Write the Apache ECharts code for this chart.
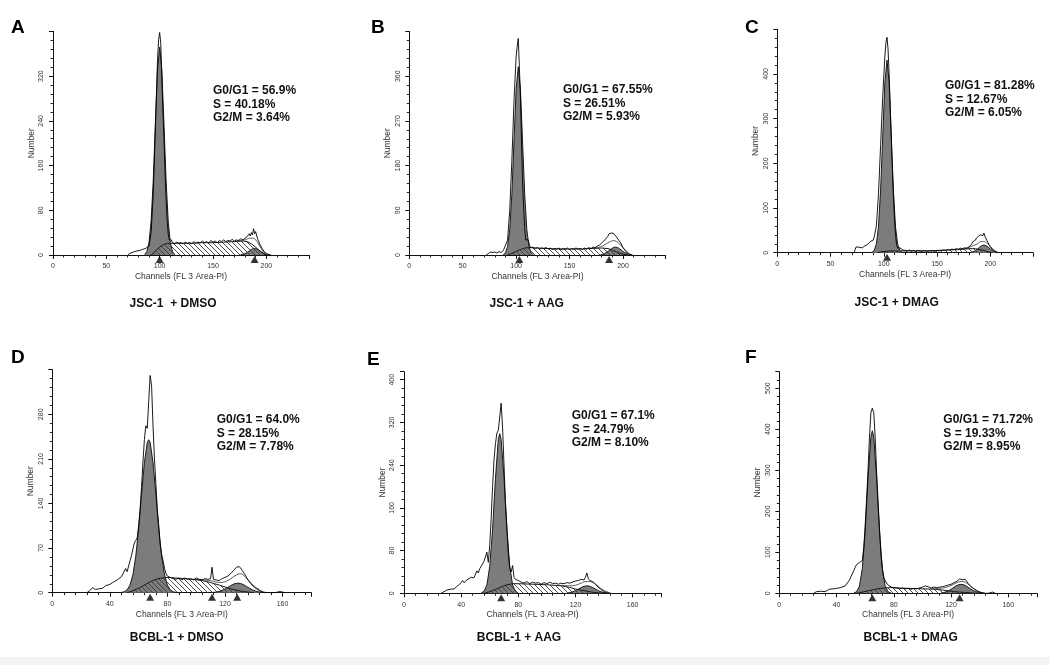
<!DOCTYPE html>
<html><head><meta charset="utf-8">
<script src="https://cdn.jsdelivr.net/npm/echarts@6/dist/echarts.min.js"></script>
<style>html,body{margin:0;padding:0;background:#fff}#c{width:1050px;height:665px}</style>
</head><body><div id="c"></div>
<script>
// ---------- DATA ----------
const panelLetters = ['A','B','C','D','E','F'];
const panelTitles = ['JSC-1  + DMSO','JSC-1 + AAG','JSC-1 + DMAG','BCBL-1 + DMSO','BCBL-1 + AAG','BCBL-1 + DMAG'];
const statsA = ['G0/G1 = 56.9%','S = 40.18%','G2/M = 3.64%'];
const statsB = ['G0/G1 = 67.55%','S = 26.51%','G2/M = 5.93%'];
const statsC = ['G0/G1 = 81.28%','S = 12.67%','G2/M = 6.05%'];
const statsD = ['G0/G1 = 64.0%','S = 28.15%','G2/M = 7.78%'];
const statsE = ['G0/G1 = 67.1%','S = 24.79%','G2/M = 8.10%'];
const statsF = ['G0/G1 = 71.72%','S = 19.33%','G2/M = 8.95%'];
const xAxisName = 'Channels (FL 3 Area-PI)';
const yAxisName = 'Number';
const xMax = [240,240,240,180,180,180];
const xInterval = [50,50,50,40,40,40];
const yMax = [400,450,500,350,415,540];
const yInterval = [80,90,100,70,80,100];

// Panel A
const rawA = [[70,0],[72,3],[73,2],[75,5],[76,4],[78,7],[79,5],[81,8],[82,7],[84,10],[85,9],[87,12],[88,11],[90,16],[92,40],[94,110],[96,230],[98,350],[99,385],[100,398],[101,380],[102,320],[103,260],[104,210],[105,150],[106,100],[107,62],[108,38],[109,27],[110,24],[111,27],[112,22],[114,20],[116,23],[118,21],[120,22],[122,20],[124,23],[126,21],[128,22],[130,20],[132,24],[134,21],[136,23],[138,22],[140,25],[142,22],[144,24],[146,21],[148,26],[150,23],[152,25],[154,22],[156,26],[158,24],[160,27],[162,24],[164,26],[166,25],[168,28],[170,25],[172,27],[174,26],[176,29],[178,27],[180,30],[182,33],[184,38],[185,34],[186,40],[187,36],[188,47],[189,38],[190,42],[191,34],[192,28],[194,19],[196,12],[198,6],[200,3],[202,1],[204,0]];
const g1A = [[86,1],[88,6],[90,22],[92,61],[94,134],[96,236],[98,332],[100,372],[102,332],[104,236],[106,134],[108,61],[110,22],[112,6],[114,1]];
const sA = [[92,0],[94,3],[96,7],[98,11],[100,14],[102,17],[104,19],[106,20],[108,21],[110,21],[120,21],[130,21],[140,22],[150,22],[160,23],[170,24],[178,25],[182,24],[186,20],[190,14],[194,7],[198,2],[200,0]];
const g2A = [[176,0.5],[178,1.1],[180,2.4],[182,4.5],[184,7.3],[186,10],[188,11.8],[190,11.8],[192,10],[194,7.3],[196,4.5],[198,2.4],[200,1.1],[202,0.4],[204,0]];
const fitA = [[170,24],[176,26],[180,27],[184,30],[188,30],[190,27],[192,22],[194,15],[196,9],[198,4],[200,1],[202,0]];
const markA = [100,189];

// Panel B
const rawB = [[72,0],[74,3],[76,6],[77,8],[78,5],[80,6],[82,4],[84,7],[86,5],[88,9],[89,14],[90,12],[92,30],[94,90],[96,190],[98,310],[100,400],[101,420],[102,436],[103,380],[104,320],[105,230],[106,150],[107,95],[108,55],[109,30],[110,28],[111,31],[112,24],[113,16],[114,14],[116,15],[118,13],[120,15],[122,12],[124,14],[126,13],[128,15],[130,12],[132,14],[134,11],[136,13],[138,12],[140,14],[142,11],[144,13],[146,12],[148,14],[150,11],[152,13],[154,12],[156,14],[158,12],[160,13],[162,11],[164,14],[166,12],[168,15],[170,13],[172,16],[174,15],[176,18],[178,20],[180,24],[182,28],[184,33],[186,38],[187,43],[188,39],[189,44],[190,41],[191,44],[192,40],[194,36],[196,30],[198,24],[200,15],[202,9],[204,4],[206,1],[208,0]];
const g1B = [[88,1],[90,4],[92,17],[94,51],[96,123],[98,230],[100,334],[102,379],[104,334],[106,230],[108,123],[110,51],[112,17],[114,4],[116,1]];
const sB = [[92,0],[96,3],[100,7],[104,11],[108,14],[112,15],[120,14],[130,13],[140,12],[150,12],[160,12],[170,13],[180,14],[186,13],[190,10],[194,6],[198,3],[202,1],[204,0]];
const g2B = [[179,0.6],[181,1.5],[183,3.1],[185,5.6],[187,8.8],[189,12.3],[191,15],[193,16],[195,15],[197,12.3],[199,8.8],[201,5.6],[203,3.1],[205,1.5],[207,0.6],[209,0]];
const fitB = [[170,13],[176,15],[180,17],[184,22],[188,27],[191,29],[194,27],[197,22],[200,15],[203,8],[206,3],[208,0]];
const markB = [103,187];

// Panel C
const rawC = [[72,0],[74,13],[75,10],[77,12],[78,14],[80,11],[82,15],[84,17],[85,14],[86,21],[88,26],[89,22],[90,28],[91,35],[93,60],[95,130],[97,240],[99,350],[101,440],[102,470],[103,482],[104,455],[105,400],[106,330],[107,260],[108,190],[109,130],[110,75],[111,40],[112,18],[113,10],[114,13],[115,11],[116,13],[118,6],[120,5],[122,4],[124,6],[126,4],[128,5],[130,3],[132,5],[134,4],[136,3],[138,5],[140,4],[142,3],[144,5],[146,4],[148,3],[150,5],[152,4],[154,5],[156,6],[158,5],[160,7],[162,6],[164,8],[166,7],[168,9],[170,8],[172,10],[174,9],[176,11],[178,10],[180,13],[182,18],[184,25],[186,28],[187,33],[188,30],[189,37],[190,35],[191,40],[192,43],[193,38],[194,44],[195,36],[196,32],[198,22],[200,13],[202,7],[204,3],[206,1],[208,0]];
const g1C = [[89,1],[91,5],[93,19],[95,58],[97,140],[99,261],[101,380],[103,431],[105,380],[107,261],[109,140],[111,58],[113,19],[115,5],[117,1]];
const sC = [[94,0],[98,2],[102,3],[106,4],[110,4],[120,4],[130,4],[140,4],[150,5],[160,6],[170,7],[180,9],[186,9],[190,7],[194,5],[198,2],[202,0]];
const g2C = [[182,1],[184,2.3],[186,4.7],[188,8.3],[190,12.3],[192,15.7],[194,17],[196,15.7],[198,12.3],[200,8.3],[202,4.7],[204,2.3],[206,1],[208,0]];
const fitC = [[170,7],[176,9],[180,12],[184,16],[188,20],[191,25],[194,25],[197,21],[200,14],[203,7],[206,2],[208,0]];
const markC = [103];

// Panel D
const rawD = [[24,0],[26,3],[28,8],[30,5],[32,6],[33,4],[35,7],[37,11],[38,9],[40,13],[42,16],[43,14],[45,20],[46,18],[48,25],[49,23],[51,38],[52,33],[54,50],[55,58],[56,55],[57,78],[58,82],[59,86],[60,105],[61,130],[62,165],[63,205],[64,240],[65,262],[66,258],[67,300],[68,341],[69,325],[70,262],[71,210],[72,170],[73,130],[74,105],[75,75],[76,60],[77,50],[78,38],[79,30],[80,26],[82,24],[84,22],[85,25],[86,21],[88,23],[90,20],[92,23],[94,21],[96,22],[98,20],[100,23],[102,21],[104,20],[106,22],[108,21],[110,22],[111,40],[112,21],[114,20],[116,19],[118,22],[120,24],[122,26],[124,30],[126,35],[128,40],[129,43],[130,41],[131,38],[132,35],[134,28],[136,20],[138,14],[140,9],[142,6],[144,3],[146,1],[148,0],[155,0],[156,1],[158,2],[160,1],[162,0]];
const g1D = [[48,0.5],[50,1.4],[52,4.4],[54,12],[56,28],[58,57],[60,100],[62,154],[64,204],[66,236],[67,240],[68,236],[70,204],[72,154],[74,100],[76,57],[78,28],[80,12],[82,4.4],[84,1.4],[86,0.5]];
const sD = [[52,0],[56,3],[60,7],[64,12],[68,17],[72,21],[76,23],[80,24],[86,23],[92,22],[98,21],[104,19],[110,16],[116,12],[120,9],[124,6],[128,4],[132,2],[136,1],[140,0]];
const g2D = [[111,0.3],[113,0.7],[115,1.5],[117,2.7],[119,4.6],[121,7],[123,9.8],[125,12.4],[127,14.3],[129,15],[131,14.3],[133,12.4],[135,9.8],[137,7],[139,4.6],[141,2.7],[143,1.5],[145,0.7],[147,0.3],[149,0]];
const fitD = [[100,21],[106,20],[112,18],[116,16],[120,17],[124,22],[128,28],[131,30],[134,25],[137,18],[140,11],[143,6],[146,2],[149,0]];
const markD = [68,111,128.5];

// Panel E
const rawE = [[26,0],[28,3],[30,6],[31,4],[33,8],[34,10],[35,8],[37,13],[38,11],[39,17],[40,15],[41,24],[42,20],[44,25],[45,23],[47,30],[48,33],[49,29],[51,42],[52,38],[53,46],[55,55],[56,60],[57,68],[58,77],[59,58],[60,90],[61,140],[62,200],[63,250],[64,280],[65,300],[66,305],[67,330],[68,356],[69,310],[70,240],[71,170],[72,125],[73,75],[74,48],[75,40],[76,52],[77,30],[78,26],[80,24],[82,21],[84,19],[86,22],[88,18],[90,21],[92,19],[94,20],[96,17],[98,20],[100,18],[102,21],[104,18],[106,19],[108,17],[110,19],[112,18],[114,20],[116,19],[118,21],[120,23],[122,24],[124,26],[126,25],[127,30],[128,38],[129,28],[130,24],[132,22],[134,17],[136,11],[138,7],[140,3],[142,1],[144,0]];
const g1E = [[54,0.6],[56,3.6],[58,15.5],[60,50],[62,120],[64,215],[66,288],[67,299],[68,288],[70,215],[72,120],[74,50],[76,15.5],[78,3.6],[80,0.6]];
const sE = [[56,0],[60,3],[64,7],[68,12],[72,16],[76,18],[80,18],[90,17],[100,16],[110,14],[116,11],[120,8],[124,6],[128,4],[132,2],[136,1],[140,0]];
const g2E = [[114,0.5],[116,1.3],[118,2.7],[120,4.9],[122,7.7],[124,10.8],[126,13.1],[128,14],[130,13.1],[132,10.8],[134,7.7],[136,4.9],[138,2.7],[140,1.3],[142,0.5],[144,0]];
const fitE = [[110,15],[116,14],[120,15],[124,19],[127,22],[130,22],[133,19],[136,13],[139,7],[142,3],[145,0]];
const markE = [68];

// Panel F
const rawF = [[24,0],[26,4],[27,2],[29,5],[30,6],[32,4],[33,7],[35,10],[36,8],[38,11],[40,12],[41,10],[43,14],[44,16],[46,18],[47,15],[49,32],[50,40],[51,36],[52,55],[53,63],[54,70],[55,73],[56,75],[57,77],[58,80],[59,110],[60,165],[61,230],[62,300],[63,380],[64,440],[65,451],[66,440],[67,380],[68,295],[69,225],[70,160],[71,95],[72,60],[73,38],[74,31],[75,25],[76,20],[77,16],[79,14],[80,12],[82,13],[84,11],[86,12],[88,11],[90,12],[92,10],[94,12],[96,11],[98,13],[100,15],[102,18],[104,16],[106,13],[108,15],[110,14],[112,15],[114,16],[116,18],[118,20],[120,22],[122,26],[124,29],[125,33],[126,35],[127,37],[128,33],[129,36],[130,34],[132,24],[134,16],[136,11],[138,6],[140,3],[142,1],[144,0],[146,0],[147,2],[149,3],[151,0]];
const g1F = [[52,0.6],[54,3.7],[56,17.4],[58,60],[60,151],[62,280],[64,381],[65,396],[66,381],[68,280],[70,151],[72,60],[74,17.4],[76,3.7],[78,0.6]];
const sF = [[54,0],[58,3],[62,6],[66,9],[70,12],[74,13],[78,14],[84,13],[90,12],[100,11],[108,10],[114,8],[118,6],[122,4],[126,3],[130,2],[134,1],[138,0]];
const g2F = [[113,0.9],[115,2],[117,4.2],[119,7.6],[121,12.1],[123,16.9],[125,20.6],[127,22],[129,20.6],[131,16.9],[133,12.1],[135,7.6],[137,4.2],[139,2],[141,0.9],[143,0]];
const fitF = [[106,11],[112,12],[116,14],[120,19],[124,26],[127,29],[130,27],[133,19],[136,11],[139,5],[142,1],[144,0]];
const markF = [65,126];

// ---------- LAYOUT / STYLE ----------
const panels = [
  {raw:rawA,g1:g1A,s:sA,g2:g2A,fit:fitA,mark:markA,stats:statsA},
  {raw:rawB,g1:g1B,s:sB,g2:g2B,fit:fitB,mark:markB,stats:statsB},
  {raw:rawC,g1:g1C,s:sC,g2:g2C,fit:fitC,mark:markC,stats:statsC},
  {raw:rawD,g1:g1D,s:sD,g2:g2D,fit:fitD,mark:markD,stats:statsD},
  {raw:rawE,g1:g1E,s:sE,g2:g2E,fit:fitE,mark:markE,stats:statsE},
  {raw:rawF,g1:g1F,s:sF,g2:g2F,fit:fitF,mark:markF,stats:statsF}
];
const grids = [
  {left:53, top:31.4, width:256, height:223.6},
  {left:409.3, top:31.5, width:256.4, height:223.5},
  {left:777.3, top:29.2, width:255.6, height:223.5},
  {left:52.3, top:369.7, width:259, height:223},
  {left:404, top:371.7, width:257.2, height:221.6},
  {left:779.3, top:371.7, width:257.6, height:221.6}
];
const letterPos = [[11,18],[371,18],[745,18],[11,348],[367,350],[745,348]];
const statsPos = [[213,84],[563,83],[945,79],[216.7,413],[571.7,409],[943.3,413]];
const titlePos = [[173,304],[526.7,304],[896.7,303],[176.7,638],[519,638],[910.7,638]];

const FONT = '"Liberation Sans", Arial, Helvetica, sans-serif';
const hatch = document.createElement('canvas');
hatch.width = 5; hatch.height = 5;
(function(){
  const c = hatch.getContext('2d');
  c.strokeStyle = '#3a3a3a'; c.lineWidth = 0.9;
  c.beginPath();
  c.moveTo(0,0); c.lineTo(5,5);
  c.moveTo(-1,4); c.lineTo(1,6);
  c.moveTo(4,-1); c.lineTo(6,1);
  c.stroke();
})();

const xAxes = [], yAxes = [], series = [], graphics = [];
panels.forEach((p, i) => {
  xAxes.push({
    gridIndex:i, type:'value', min:0, max:xMax[i], interval:xInterval[i],
    name:xAxisName, nameLocation:'middle', nameGap:17,
    nameTextStyle:{fontSize:8.5, color:'#333', fontFamily:FONT},
    axisLine:{lineStyle:{color:'#111', width:1}},
    axisTick:{show:true, length:4, lineStyle:{color:'#111'}},
    minorTick:{show:true, splitNumber:5, length:2.5, lineStyle:{color:'#222'}},
    axisLabel:{fontSize:7, color:'#333', margin:8, showMaxLabel:false, fontFamily:FONT},
    splitLine:{show:false}
  });
  yAxes.push({
    gridIndex:i, type:'value', min:0, max:yMax[i], interval:yInterval[i],
    name:yAxisName, nameLocation:'middle', nameGap:17,
    nameTextStyle:{fontSize:8.5, color:'#333', fontFamily:FONT},
    axisLine:{show:true, lineStyle:{color:'#111', width:1}},
    axisTick:{show:true, length:4, lineStyle:{color:'#111'}},
    minorTick:{show:true, splitNumber:5, length:2.5, lineStyle:{color:'#222'}},
    axisLabel:{fontSize:7, color:'#333', rotate:90, margin:8, showMaxLabel:false, fontFamily:FONT},
    splitLine:{show:false}
  });
  const base = {xAxisIndex:i, yAxisIndex:i, type:'line', showSymbol:false, symbol:'none', animation:false, silent:true};
  series.push(Object.assign({}, base, {name:'G0/G1 '+i, data:p.g1, z:2,
    lineStyle:{color:'#1a1a1a', width:1}, areaStyle:{color:'#7c7c7c', opacity:1}}));
  series.push(Object.assign({}, base, {name:'G2/M '+i, data:p.g2, z:2,
    lineStyle:{color:'#1a1a1a', width:1}, areaStyle:{color:'#7c7c7c', opacity:1}}));
  series.push(Object.assign({}, base, {name:'S '+i, data:p.s, z:3,
    lineStyle:{color:'#1a1a1a', width:1}, areaStyle:{color:{image:hatch, repeat:'repeat'}, opacity:1}}));
  series.push(Object.assign({}, base, {name:'fit '+i, data:p.fit, z:3,
    smooth:0.3, lineStyle:{color:'#333', width:0.8}}));
  series.push(Object.assign({}, base, {name:'raw '+i, data:p.raw, z:4,
    lineStyle:{color:'#000', width:0.9}}));
  series.push({type:'scatter', xAxisIndex:i, yAxisIndex:i, z:5, silent:true, animation:false, clip:false,
    symbol:'triangle', symbolSize:[8,7], symbolOffset:[0,4.5], itemStyle:{color:'#000'},
    data:p.mark.map(c => [c, 0])});
  graphics.push({type:'text', left:letterPos[i][0], top:letterPos[i][1],
    style:{text:panelLetters[i], font:'bold 19px '+FONT, fill:'#000'}});
  graphics.push({type:'text', left:statsPos[i][0], top:statsPos[i][1],
    style:{text:p.stats.join('\n'), font:'bold 12px '+FONT, lineHeight:13.5, fill:'#111'}});
  graphics.push({type:'text', x:titlePos[i][0], y:titlePos[i][1],
    style:{text:panelTitles[i], font:'bold 12px '+FONT, fill:'#111', align:'center', verticalAlign:'middle'}});
});
graphics.push({type:'rect', shape:{x:0, y:657, width:1050, height:8}, style:{fill:'#f3f3f3'}, z:-1});

const chart = echarts.init(document.getElementById('c'), null, {renderer:'canvas'});
chart.setOption({
  backgroundColor:'#ffffff',
  animation:false,
  grid: grids.map(g => Object.assign({containLabel:false}, g)),
  xAxis: xAxes, yAxis: yAxes, series: series, graphic: graphics
});
</script></body></html>
